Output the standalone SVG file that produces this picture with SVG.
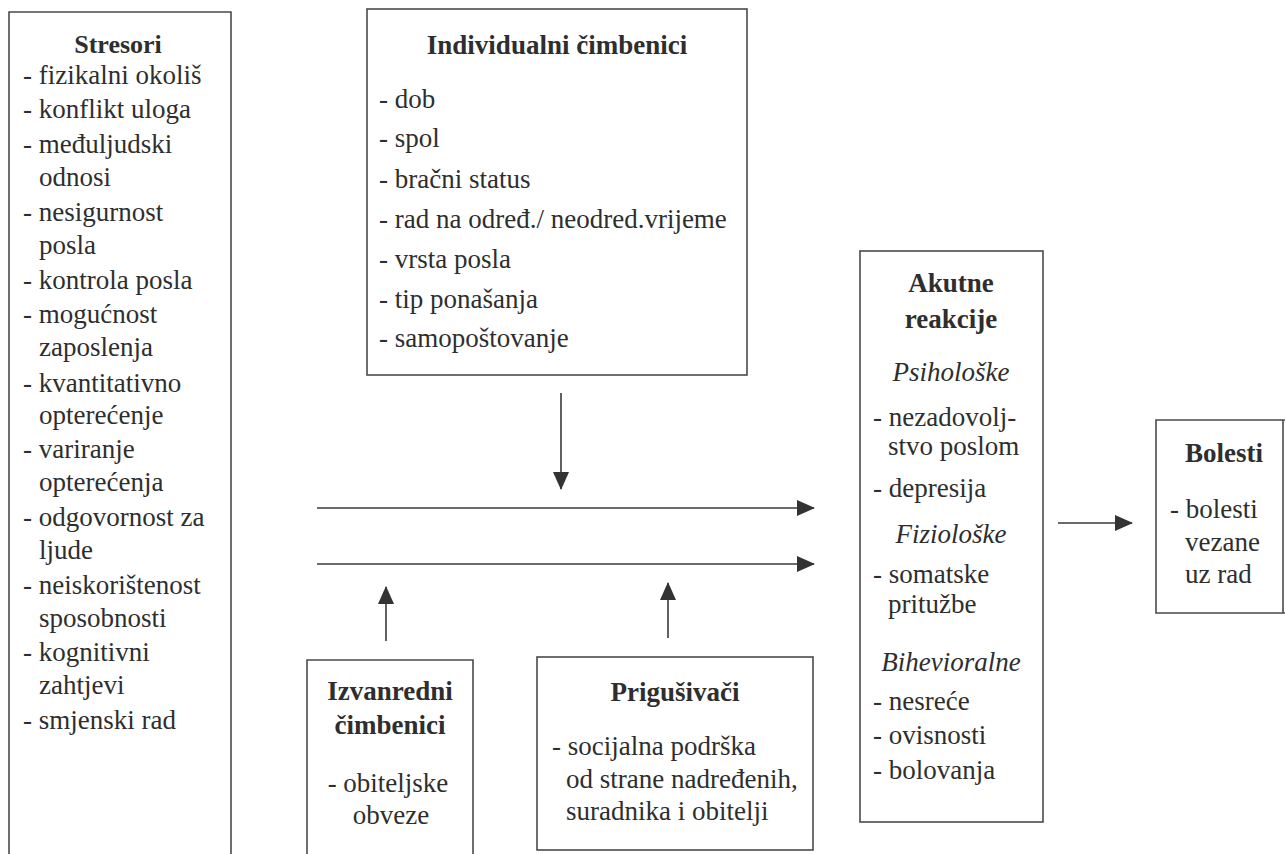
<svg xmlns="http://www.w3.org/2000/svg" width="1285" height="854" viewBox="0 0 1285 854">
<style>
.box{fill:none;stroke:#4a4a4a;stroke-width:1.6}
.t{font-family:"Liberation Serif","Times New Roman",serif;font-size:27px;fill:#2e2e2e}
.b{font-weight:bold;text-anchor:middle}
.i{font-style:italic;text-anchor:middle}
.c{text-anchor:middle}
.ln{stroke:#3a3a3a;stroke-width:1.6;fill:none;marker-end:url(#ah)}
</style>
<defs>
<marker id="ah" viewBox="0 0 18 16" refX="17" refY="8" markerWidth="18" markerHeight="16" markerUnits="userSpaceOnUse" orient="auto">
<path d="M0,0 L18,8 L0,16 z" fill="#333"/>
</marker>
</defs>
<rect width="1285" height="854" fill="#fff"/>

<g id="stresori">
<path class="box" d="M9,860 V12 H231 V860"/>
<text class="t b" x="118" y="53" style="font-size:26px">Stresori</text>
<text class="t" x="23" y="84">- fizikalni okoliš</text>
<text class="t" x="23" y="118">- konflikt uloga</text>
<text class="t" x="23" y="153">- međuljudski</text>
<text class="t" x="39" y="186">odnosi</text>
<text class="t" x="23" y="221">- nesigurnost</text>
<text class="t" x="39" y="254">posla</text>
<text class="t" x="23" y="289">- kontrola posla</text>
<text class="t" x="23" y="323">- mogućnost</text>
<text class="t" x="39" y="356">zaposlenja</text>
<text class="t" x="23" y="392">- kvantitativno</text>
<text class="t" x="39" y="424">opterećenje</text>
<text class="t" x="23" y="458">- variranje</text>
<text class="t" x="39" y="491">opterećenja</text>
<text class="t" x="23" y="526">- odgovornost za</text>
<text class="t" x="39" y="559">ljude</text>
<text class="t" x="23" y="594">- neiskorištenost</text>
<text class="t" x="39" y="627">sposobnosti</text>
<text class="t" x="23" y="661">- kognitivni</text>
<text class="t" x="39" y="694">zahtjevi</text>
<text class="t" x="23" y="729">- smjenski rad</text>
</g>

<g id="individualni">
<rect class="box" x="367" y="9" width="380" height="366"/>
<text class="t b" x="557" y="54">Individualni čimbenici</text>
<text class="t" x="379" y="108">- dob</text>
<text class="t" x="379" y="147">- spol</text>
<text class="t" x="379" y="188">- bračni status</text>
<text class="t" x="379" y="228">- rad na određ./ neodred.vrijeme</text>
<text class="t" x="379" y="268">- vrsta posla</text>
<text class="t" x="379" y="308">- tip ponašanja</text>
<text class="t" x="379" y="347">- samopoštovanje</text>
</g>

<g id="izvanredni">
<path class="box" d="M307,860 V660 H473 V860"/>
<text class="t b" x="390" y="700">Izvanredni</text>
<text class="t b" x="390" y="734">čimbenici</text>
<text class="t c" x="388" y="792">- obiteljske</text>
<text class="t c" x="391" y="824">obveze</text>
</g>

<g id="prigusivaci">
<rect class="box" x="537" y="657" width="276" height="193"/>
<text class="t b" x="675" y="701">Prigušivači</text>
<text class="t" x="552" y="755">- socijalna podrška</text>
<text class="t" x="566" y="788">od strane nadređenih,</text>
<text class="t" x="566" y="820">suradnika i obitelji</text>
</g>

<g id="akutne">
<rect class="box" x="860" y="251" width="183" height="571"/>
<text class="t b" x="951" y="292">Akutne</text>
<text class="t b" x="951" y="328">reakcije</text>
<text class="t i" x="951" y="381">Psihološke</text>
<text class="t" x="873" y="426">- nezadovolj-</text>
<text class="t" x="888" y="455">stvo poslom</text>
<text class="t" x="873" y="497">- depresija</text>
<text class="t i" x="951" y="543">Fiziološke</text>
<text class="t" x="873" y="583">- somatske</text>
<text class="t" x="888" y="613">pritužbe</text>
<text class="t i" x="951" y="671">Bihevioralne</text>
<text class="t" x="873" y="710">- nesreće</text>
<text class="t" x="873" y="744">- ovisnosti</text>
<text class="t" x="873" y="779">- bolovanja</text>
</g>

<g id="bolesti">
<path class="box" d="M1290,420 H1156 V613 H1290"/>
<line class="box" x1="1283" y1="420" x2="1283" y2="613"/>
<text class="t b" x="1224" y="462">Bolesti</text>
<text class="t" x="1170" y="518">- bolesti</text>
<text class="t" x="1185" y="551">vezane</text>
<text class="t" x="1185" y="583">uz rad</text>
</g>

<g id="connectors">
<line class="ln" x1="561" y1="393" x2="561" y2="489"/>
<line class="ln" x1="317" y1="508" x2="814" y2="508"/>
<line class="ln" x1="317" y1="564" x2="814" y2="564"/>
<line class="ln" x1="386" y1="641" x2="386" y2="587"/>
<line class="ln" x1="668" y1="638" x2="668" y2="583"/>
<line class="ln" x1="1058" y1="523" x2="1132" y2="523"/>
</g>
</svg>
